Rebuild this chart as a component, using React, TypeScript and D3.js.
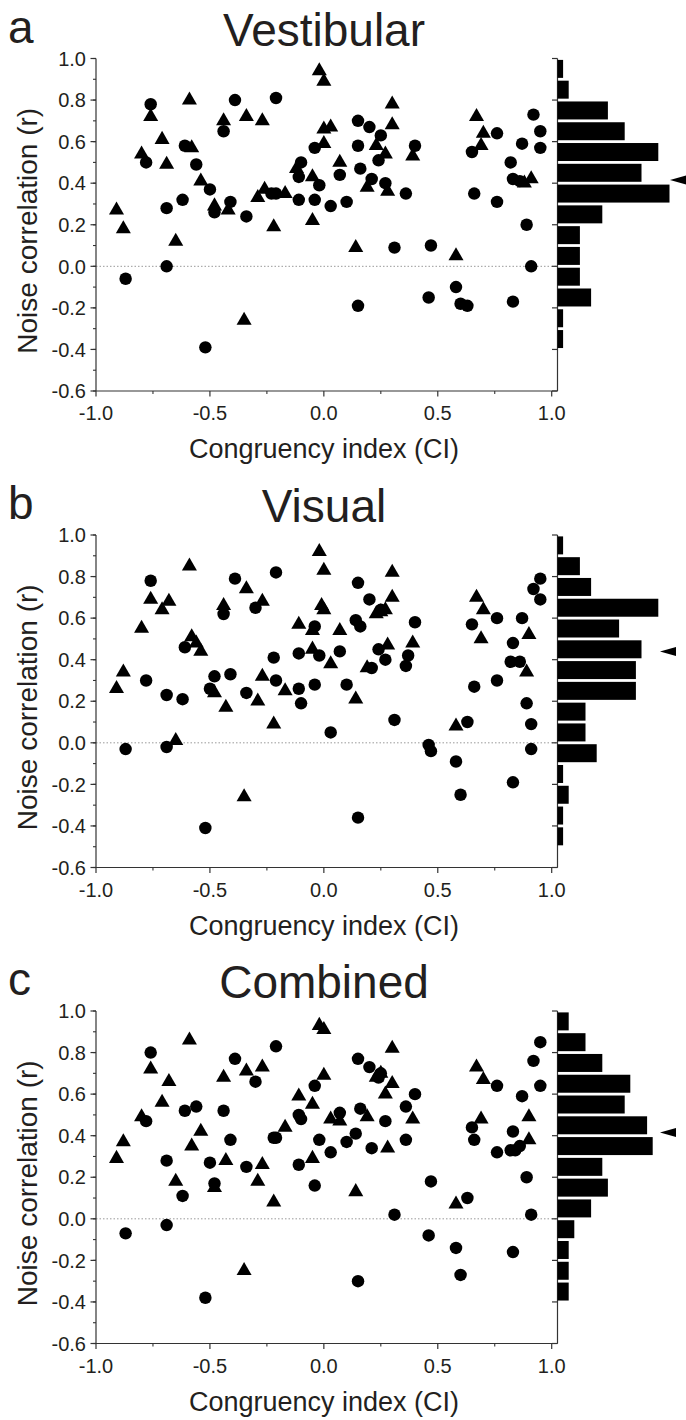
import React from "react";
import * as d3 from "d3";

// [congruency index, noise correlation]
const vestibularCircles: [number, number][] = [
  [-0.87, -0.06], [-0.78, 0.5], [-0.76, 0.78], [-0.69, 0.0], [-0.69, 0.28], [-0.62, 0.32],
  [-0.61, 0.58], [-0.56, 0.49], [-0.5, 0.37], [-0.48, 0.26], [-0.44, 0.65], [-0.41, 0.31],
  [-0.39, 0.8], [-0.34, 0.24], [-0.21, 0.81], [-0.52, -0.39], [-0.23, 0.35], [-0.21, 0.35],
  [-0.11, 0.32], [-0.11, 0.43], [-0.1, 0.5], [-0.04, 0.57], [-0.04, 0.32], [-0.02, 0.39],
  [0.03, 0.29], [0.07, 0.44], [0.1, 0.31], [0.15, 0.58], [0.15, 0.7], [0.16, 0.47],
  [0.2, 0.67], [0.21, 0.42], [0.24, 0.51], [0.25, 0.63], [0.27, 0.4], [0.31, 0.09],
  [0.36, 0.35], [0.4, 0.58], [0.15, -0.19], [0.47, 0.1], [0.46, -0.15], [0.58, -0.1],
  [0.6, -0.18], [0.63, -0.19], [0.65, 0.55], [0.66, 0.35], [0.76, 0.64], [0.76, 0.31],
  [0.82, 0.5], [0.83, -0.17], [0.83, 0.42], [0.87, 0.59], [0.89, 0.2], [0.91, 0.0],
  [0.92, 0.73], [0.95, 0.65], [0.95, 0.57], [0.86, 0.41],
];
const vestibularTriangles: [number, number][] = [
  [-0.91, 0.27], [-0.88, 0.18], [-0.8, 0.54], [-0.76, 0.72], [-0.71, 0.61], [-0.69, 0.49],
  [-0.65, 0.12], [-0.59, 0.8], [-0.58, 0.57], [-0.54, 0.41], [-0.48, 0.29], [-0.44, 0.7],
  [-0.42, 0.27], [-0.35, -0.26], [-0.34, 0.72], [-0.29, 0.33], [-0.27, 0.7], [-0.26, 0.37],
  [-0.22, 0.19], [-0.17, 0.35], [-0.12, 0.47], [-0.05, 0.43], [-0.05, 0.22], [-0.02, 0.94],
  [0.0, 0.89], [0.0, 0.59], [0.0, 0.66], [0.03, 0.67], [0.07, 0.5], [0.14, 0.09],
  [0.19, 0.38], [0.23, 0.58], [0.27, 0.54], [0.28, 0.36], [0.3, 0.78], [0.3, 0.68],
  [0.39, 0.53], [0.58, 0.05], [0.67, 0.72], [0.69, 0.58], [0.7, 0.64], [0.91, 0.42], [0.88, 0.4],
];

const visualCircles: [number, number][] = [
  [-0.87, -0.03], [-0.78, 0.3], [-0.76, 0.78], [-0.69, 0.23], [-0.69, -0.02], [-0.62, 0.21],
  [-0.61, 0.46], [-0.5, 0.26], [-0.48, 0.32], [-0.44, 0.62], [-0.41, 0.33], [-0.39, 0.79],
  [-0.34, 0.24], [-0.3, 0.65], [-0.21, 0.82], [-0.22, 0.41], [-0.21, 0.3], [-0.52, -0.41],
  [-0.11, 0.43], [-0.11, 0.26], [-0.1, 0.19], [-0.04, 0.56], [-0.04, 0.28], [-0.02, 0.42],
  [0.03, 0.05], [0.07, 0.44], [0.1, 0.28], [0.15, -0.36], [0.15, 0.77], [0.14, 0.59],
  [0.16, 0.56], [0.2, 0.69], [0.21, 0.36], [0.24, 0.45], [0.25, 0.64], [0.27, 0.4],
  [0.31, 0.11], [0.36, 0.37], [0.37, 0.42], [0.4, 0.58], [0.46, -0.01], [0.47, -0.04],
  [0.58, -0.09], [0.6, -0.25], [0.63, 0.1], [0.65, 0.57], [0.66, 0.27], [0.76, 0.6],
  [0.76, 0.3], [0.83, 0.48], [0.82, 0.39], [0.86, 0.39], [0.83, -0.19], [0.87, 0.6],
  [0.89, 0.19], [0.91, 0.09], [0.91, -0.03], [0.92, 0.74], [0.95, 0.79], [0.95, 0.69],
];
const visualTriangles: [number, number][] = [
  [-0.91, 0.26], [-0.88, 0.34], [-0.8, 0.55], [-0.76, 0.69], [-0.71, 0.64], [-0.68, 0.68],
  [-0.65, 0.01], [-0.59, 0.85], [-0.58, 0.51], [-0.56, 0.48], [-0.54, 0.44], [-0.48, 0.24],
  [-0.43, 0.17], [-0.44, 0.66], [-0.35, -0.26], [-0.34, 0.74], [-0.29, 0.2], [-0.27, 0.68],
  [-0.27, 0.32], [-0.22, 0.09], [-0.17, 0.25], [-0.11, 0.57], [-0.05, 0.45], [-0.05, 0.54],
  [-0.02, 0.92], [0.0, 0.83], [-0.01, 0.66], [0.0, 0.64], [0.03, 0.38], [0.07, 0.54],
  [0.14, 0.21], [0.19, 0.36], [0.23, 0.62], [0.25, 0.63], [0.27, 0.64], [0.28, 0.47],
  [0.3, 0.82], [0.3, 0.7], [0.39, 0.48], [0.58, 0.08], [0.67, 0.7], [0.69, 0.5],
  [0.7, 0.64], [0.9, 0.52], [0.89, 0.34],
];

const combinedCircles: [number, number][] = [
  [-0.87, -0.07], [-0.78, 0.47], [-0.76, 0.8], [-0.69, -0.03], [-0.69, 0.28], [-0.62, 0.11],
  [-0.61, 0.52], [-0.56, 0.54], [-0.5, 0.27], [-0.48, 0.17], [-0.44, 0.52], [-0.41, 0.38],
  [-0.39, 0.77], [-0.34, 0.25], [-0.3, 0.66], [-0.21, 0.83], [-0.22, 0.39], [-0.21, 0.39],
  [-0.52, -0.38], [-0.11, 0.26], [-0.11, 0.5], [-0.1, 0.48], [-0.04, 0.64], [-0.04, 0.16],
  [-0.02, 0.38], [0.03, 0.32], [0.07, 0.51], [0.1, 0.37], [0.15, -0.3], [0.15, 0.77],
  [0.16, 0.53], [0.14, 0.41], [0.2, 0.73], [0.21, 0.34], [0.24, 0.68], [0.25, 0.7],
  [0.27, 0.47], [0.31, 0.02], [0.36, 0.54], [0.36, 0.38], [0.4, 0.6], [0.46, -0.08],
  [0.47, 0.18], [0.58, -0.14], [0.6, -0.27], [0.63, 0.1], [0.65, 0.44], [0.66, 0.38],
  [0.76, 0.64], [0.76, 0.32], [0.83, 0.42], [0.82, 0.33], [0.84, 0.33], [0.86, 0.35],
  [0.83, -0.16], [0.87, 0.59], [0.89, 0.2], [0.91, 0.02], [0.92, 0.76], [0.95, 0.85], [0.95, 0.64],
];
const combinedTriangles: [number, number][] = [
  [-0.91, 0.29], [-0.88, 0.37], [-0.8, 0.49], [-0.76, 0.72], [-0.71, 0.56], [-0.68, 0.66],
  [-0.65, 0.18], [-0.59, 0.86], [-0.58, 0.35], [-0.54, 0.42], [-0.48, 0.15], [-0.43, 0.28],
  [-0.44, 0.68], [-0.35, -0.25], [-0.34, 0.71], [-0.29, 0.18], [-0.27, 0.73], [-0.27, 0.26],
  [-0.22, 0.08], [-0.17, 0.44], [-0.11, 0.59], [-0.05, 0.55], [-0.05, 0.29], [-0.02, 0.93],
  [0.0, 0.91], [0.0, 0.69], [0.03, 0.48], [0.07, 0.47], [0.14, 0.13], [0.19, 0.49],
  [0.23, 0.68], [0.25, 0.7], [0.27, 0.6], [0.28, 0.34], [0.3, 0.82], [0.3, 0.65],
  [0.39, 0.48], [0.58, 0.07], [0.67, 0.73], [0.69, 0.48], [0.7, 0.67], [0.9, 0.49], [0.9, 0.38],
];

// histogram counts, top bin first (bins of 0.1 starting at 1.0)
const binTops = [1.0, 0.9, 0.8, 0.7, 0.6, 0.5, 0.4, 0.3, 0.2, 0.1, 0.0, -0.1, -0.2, -0.3, -0.4];
const vestibularHist = [1, 2, 9, 12, 18, 15, 20, 8, 4, 4, 4, 6, 1, 1];
const visualHist = [1, 4, 6, 18, 11, 15, 14, 14, 5, 5, 7, 1, 2, 1, 1];
const combinedHist = [2, 5, 8, 13, 12, 16, 17, 8, 9, 6, 3, 2, 2, 2];
const meanMarks = [0.415, 0.44, 0.415];

const panelLetters = ["a", "b", "c"];
const panelTitles = ["Vestibular", "Visual", "Combined"];
const xTicks = [-1, -0.5, 0, 0.5, 1];
const yTicks = [1.0, 0.8, 0.6, 0.4, 0.2, 0.0, -0.2, -0.4, -0.6];

// layout
const W = 686;
const H = 1420;
const plotLeft = 96;
const plotRight = 551.7;
const histAxis = 557.5;
const plotH = 332.5;
const panelTops = [58.5, 535, 1011];
const countPx = 5.6;
const arrowTips = [670, 660, 660];
const font = "'Liberation Sans', Arial, Helvetica, sans-serif";
const ink = "#231f20";

const fmt = (v: number) => d3.format(".1f")(v).replace("\u2212", "-");

function Panel({ top, letter, title, circles, triangles, hist, mean, arrowTip }) {
  const x = d3.scaleLinear().domain([-1, 1]).range([plotLeft, plotRight]);
  const y = d3.scaleLinear().domain([-0.6, 1]).range([top + plotH, top]);
  const hx = d3.scaleLinear().domain([0, 1]).range([histAxis, histAxis + countPx]);
  const bottom = top + plotH;
  const dot = d3.symbol(d3.symbolCircle, 122)();
  const tri = d3.symbol(d3.symbolTriangle, 98)();
  const yMinor = y.ticks(16);
  const xMinor = d3.pairs(xTicks).map(([a, b]) => (a + b) / 2);
  const my = y(mean);

  return (
    <g>
      <text x={8} y={top - 16} fontSize={46} fill={ink} fontFamily={font}>{letter}</text>
      <text x={324} y={top - 13} fontSize={46} fill={ink} fontFamily={font} textAnchor="middle">{title}</text>

      {/* zero line */}
      <line x1={plotLeft} x2={histAxis} y1={y(0)} y2={y(0)} stroke="#9a9a9a" strokeWidth={1} strokeDasharray="1.5,2" />

      {/* y axis */}
      <line x1={plotLeft} x2={plotLeft} y1={top} y2={bottom} stroke="#333" strokeWidth={1.2} />
      {yMinor.map((t) => (
        <line key={"ym" + t} x1={plotLeft - 3} x2={plotLeft} y1={y(t)} y2={y(t)} stroke="#333" strokeWidth={1.1} />
      ))}
      {yTicks.map((t) => (
        <g key={"y" + t}>
          <line x1={plotLeft - 5.5} x2={plotLeft} y1={y(t)} y2={y(t)} stroke="#333" strokeWidth={1.2} />
          <text x={plotLeft - 10} y={y(t)} dy="0.36em" fontSize={20} fill={ink} fontFamily={font} textAnchor="end">{fmt(t)}</text>
        </g>
      ))}

      {/* x axis */}
      <line x1={plotLeft} x2={histAxis} y1={bottom} y2={bottom} stroke="#333" strokeWidth={1.2} />
      {xMinor.map((t) => (
        <line key={"xm" + t} x1={x(t)} x2={x(t)} y1={bottom} y2={bottom + 3} stroke="#333" strokeWidth={1.1} />
      ))}
      {xTicks.map((t) => (
        <g key={"x" + t}>
          <line x1={x(t)} x2={x(t)} y1={bottom} y2={bottom + 5.5} stroke="#333" strokeWidth={1.2} />
          <text x={x(t)} y={bottom + 29} fontSize={20} fill={ink} fontFamily={font} textAnchor="middle">{fmt(t)}</text>
        </g>
      ))}
      <text x={324} y={bottom + 67} fontSize={27} fill={ink} fontFamily={font} textAnchor="middle">Congruency index (CI)</text>
      <text
        transform={`translate(27,${(top + bottom) / 2 + 6}) rotate(-90)`}
        dy="0.35em"
        fontSize={28}
        fill={ink}
        fontFamily={font}
        textAnchor="middle"
      >
        Noise correlation (r)
      </text>

      {/* marginal histogram */}
      <line x1={histAxis} x2={histAxis} y1={top} y2={bottom} stroke="#333" strokeWidth={1.2} />
      {yTicks.map((t) => (
        <line key={"h" + t} x1={histAxis - 5.5} x2={histAxis} y1={y(t)} y2={y(t)} stroke="#333" strokeWidth={1.2} />
      ))}
      {hist.map((c, i) => (
        <rect
          key={"b" + i}
          x={histAxis}
          y={y(binTops[i]) + 1.4}
          width={hx(c) - histAxis}
          height={y(binTops[i] - 0.1) - y(binTops[i]) - 2.8}
          fill="#000"
        />
      ))}
      <path d={`M${arrowTip},${my} L${arrowTip + 16},${my - 4.5} L${arrowTip + 16},${my + 4.5} Z`} fill="#000" />

      {/* scatter */}
      {circles.map(([cx, cy], i) => (
        <path key={"c" + i} d={dot} transform={`translate(${x(cx)},${y(cy)})`} fill="#000" />
      ))}
      {triangles.map(([tx, ty], i) => (
        <path key={"t" + i} d={tri} transform={`translate(${x(tx)},${y(ty)})`} fill="#000" />
      ))}
    </g>
  );
}

export default function App() {
  const circleSets = [vestibularCircles, visualCircles, combinedCircles];
  const triangleSets = [vestibularTriangles, visualTriangles, combinedTriangles];
  const hists = [vestibularHist, visualHist, combinedHist];
  return (
    <svg
      width={W}
      height={H}
      viewBox={`0 0 ${W} ${H}`}
      style={{ position: "absolute", left: 0, top: 0, background: "#fff" }}
    >
      <rect width={W} height={H} fill="#fff" />
      {panelTops.map((top, i) => (
        <Panel
          key={i}
          top={top}
          letter={panelLetters[i]}
          title={panelTitles[i]}
          circles={circleSets[i]}
          triangles={triangleSets[i]}
          hist={hists[i]}
          mean={meanMarks[i]}
          arrowTip={arrowTips[i]}
        />
      ))}
    </svg>
  );
}
